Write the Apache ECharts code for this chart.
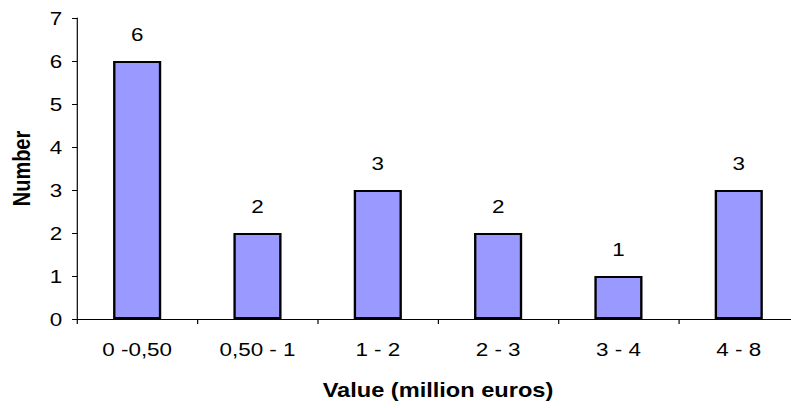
<!DOCTYPE html>
<html>
<head>
<meta charset="utf-8">
<script src="https://cdn.jsdelivr.net/npm/echarts@6/dist/echarts.min.js"></script>
<style>
  html, body { margin: 0; padding: 0; background: #fff; overflow: hidden; }
  /* the chart is laid out narrower and widened, which gives the broad lettering */
  #chart { width: 678px; height: 408px; transform: scaleX(1.18); transform-origin: 0 0; }
</style>
</head>
<body>
<div id="chart"></div>
<script>
// Value classes (million euros) and number of items in each class
const categories = ['0 -0,50', '0,50 - 1', '1 - 2', '2 - 3', '3 - 4', '4 - 8'];
const counts = [6, 2, 3, 2, 1, 3];
const yTicks = [0, 1, 2, 3, 4, 5, 6, 7];

const font = '"Liberation Sans", Arial, sans-serif';
const chart = echarts.init(document.getElementById('chart'), null, { renderer: 'svg' });

chart.setOption({
  animation: false,
  backgroundColor: '#ffffff',
  grid: { left: 65.25, right: 0.95, top: 18, bottom: 89, containLabel: false },
  xAxis: {
    type: 'category',
    data: categories,
    name: 'Value (million euros)',
    nameLocation: 'middle',
    nameGap: 61,
    nameTextStyle: { fontFamily: font, fontSize: 20, fontWeight: 'bold', color: '#000' },
    axisLine: { lineStyle: { color: '#000', width: 1 } },
    axisTick: { show: true, alignWithLabel: false, length: 5, lineStyle: { color: '#000' } },
    axisLabel: { fontFamily: font, fontSize: 19, color: '#000', margin: 20.5 }
  },
  yAxis: {
    type: 'value',
    min: yTicks[0],
    max: yTicks[yTicks.length - 1],
    interval: 1,
    name: 'Number',
    nameLocation: 'middle',
    nameGap: 36.5,
    nameRotate: 90,
    nameTextStyle: { fontFamily: font, fontSize: 20, fontWeight: 'bold', color: '#000' },
    axisLine: { show: true, lineStyle: { color: '#000', width: 1 } },
    axisTick: { show: true, length: 4.2, lineStyle: { color: '#000' } },
    splitLine: { show: false },
    axisLabel: { fontFamily: font, fontSize: 19, color: '#000', margin: 12.5 }
  },
  series: [{
    type: 'bar',
    data: counts,
    barWidth: '40%',
    itemStyle: { color: '#9999ff', borderColor: '#000', borderWidth: 2 },
    label: {
      show: true,
      position: 'top',
      distance: 17.5,
      fontFamily: font,
      fontSize: 19,
      color: '#000'
    }
  }]
});
</script>
</body>
</html>
